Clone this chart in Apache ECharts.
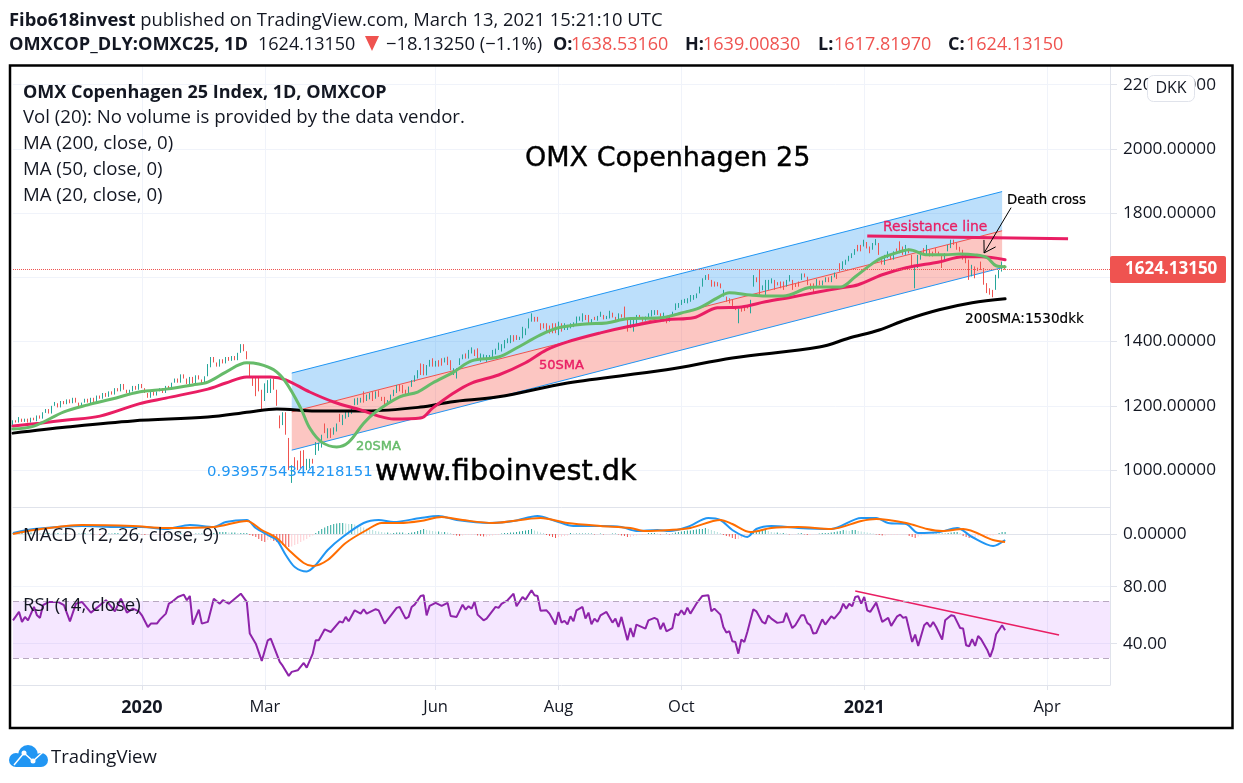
<!DOCTYPE html>
<html><head><meta charset="utf-8">
<style>html,body{margin:0;padding:0;background:#fff}#c{width:1243px;height:783px}</style>
<script src="https://cdn.jsdelivr.net/npm/echarts@6/dist/echarts.min.js"></script>
</head><body><div id="c"></div>
<script>
const BAR_SLOTS = 367;
const tickBars = [43,84,141,182,223,284,345];
const tickLabels = ['2020','Mar','Jun','Aug','Oct','2021','Apr'];
const priceTicks = [1000,1200,1400,1600,1800,2000,2200];
const lastPrice = 1624.1315;

const opens = [
1140,1155,1148,1160,1150,1160,1148,1163,1152,1170,
1160,1178,1190,1176,1200,1208,1195,1215,1205,1220,
1208,1225,1210,1195,1210,1222,1208,1225,1212,1232,
1222,1240,1228,1245,1235,1255,1245,1268,1250,1240,
1245,1262,1250,1268,1255,1240,1225,1245,1232,1245,
1255,1240,1262,1250,1272,1285,1272,1298,1285,1268,
1290,1270,1295,1282,1270,1292,1320,1352,1335,1322,
1345,1332,1352,1340,1355,1342,1365,1392,1370,1335,
1290,1290,1290,1250,1215,1240,1240,1285,1250,1170,
1140,1180,1100,960,1040,1030,1060,1062,1000,1005,
1035,1047,1060,1070,1145,1099,1130,1110,1120,1175,
1140,1160,1165,1175,1202,1203,1210,1245,1215,1220,
1245,1222,1248,1228,1228,1205,1215,1230,1240,1265,
1265,1250,1240,1259,1275,1285,1332,1330,1295,1322,
1348,1322,1342,1348,1335,1353,1342,1296,1285,1327,
1345,1363,1347,1363,1375,1379,1337,1345,1337,1344,
1348,1360,1374,1369,1379,1395,1395,1420,1420,1405,
1410,1420,1441,1462,1477,1477,1457,1457,1457,1450,
1457,1457,1420,1457,1436,1436,1441,1445,1452,1465,
1462,1483,1483,1452,1477,1465,1477,1483,1470,1472,
1490,1477,1467,1485,1509,1472,1442,1431,1452,1483,
1477,1465,1472,1478,1483,1498,1488,1463,1478,1462,
1483,1498,1505,1514,1520,1519,1524,1530,1535,1550,
1571,1592,1610,1592,1587,1585,1581,1540,1540,1535,
1530,1509,1457,1509,1505,1514,1488,1571,1600,1623,
1560,1540,1561,1581,1592,1585,1587,1587,1571,1587,
1592,1580,1587,1592,1612,1602,1581,1581,1570,1590,
1575,1585,1600,1585,1600,1610,1644,1625,1639,1650,
1660,1670,1701,1701,1696,1710,1696,1686,1700,1707,
1660,1639,1660,1670,1655,1690,1712,1696,1670,1690,
1670,1566,1629,1655,1691,1670,1686,1680,1691,1680,
1670,1650,1681,1691,1717,1707,1695,1686,1670,1655,
1603,1634,1630,1649,1629,1582,1566,1561,1561,1597,1618,1638.53];
const closes = [
1155,1148,1165,1150,1160,1148,1163,1155,1170,1160,
1180,1190,1176,1200,1212,1195,1215,1205,1220,1208,
1225,1210,1195,1210,1222,1210,1225,1212,1232,1222,
1240,1228,1245,1235,1255,1245,1268,1250,1240,1250,
1262,1250,1268,1255,1240,1225,1245,1232,1245,1255,
1240,1262,1250,1272,1285,1272,1298,1285,1268,1290,
1270,1295,1282,1270,1292,1330,1352,1335,1322,1345,
1332,1352,1340,1355,1342,1365,1392,1370,1345,1290,
1262,1230,1245,1190,1270,1280,1285,1250,1200,1130,
1180,1110,1000,1015,1000,1000,1005,1000,1035,1035,
1020,1087,1085,1110,1115,1130,1100,1133,1145,1150,
1172,1182,1187,1195,1223,1225,1225,1210,1235,1240,
1215,1245,1228,1215,1200,1218,1235,1250,1265,1245,
1239,1235,1260,1280,1295,1311,1296,1295,1327,1343,
1322,1340,1322,1325,1350,1327,1311,1317,1317,1348,
1360,1347,1374,1382,1355,1348,1363,1360,1358,1358,
1374,1378,1397,1392,1405,1410,1420,1400,1405,1415,
1446,1441,1472,1488,1462,1462,1436,1441,1431,1425,
1426,1426,1462,1431,1457,1452,1457,1460,1478,1478,
1488,1467,1452,1470,1467,1480,1493,1469,1480,1496,
1475,1467,1488,1475,1469,1431,1467,1472,1483,1470,
1462,1478,1488,1498,1498,1483,1467,1490,1457,1483,
1493,1519,1520,1530,1533,1535,1545,1545,1550,1571,
1597,1607,1592,1571,1571,1572,1566,1561,1524,1519,
1503,1498,1503,1493,1495,1503,1530,1607,1585,1545,
1575,1592,1592,1597,1561,1575,1566,1561,1592,1607,
1561,1570,1571,1612,1600,1576,1561,1550,1595,1575,
1590,1600,1585,1605,1615,1595,1618,1650,1655,1667,
1675,1688,1681,1681,1717,1690,1675,1707,1719,1670,
1640,1670,1681,1654,1681,1680,1675,1670,1701,1675,
1634,1639,1670,1681,1670,1701,1665,1665,1675,1670,
1629,1675,1701,1717,1701,1686,1680,1655,1644,1592,
1639,1597,1620,1623,1577,1551,1546,1538,1608,1623,1649,1624.13];

const ma20Bars = [0,7,17,25,33,42,51,60,65,71,78,82,87,91,96,99,103,108,112,117,121,129,135,140,147,153,162,168,176,182,191,198,205,216,223,229,235,239,246,251,257,265,269,276,281,287,290,296,299,305,311,316,321,325,328,331];
const ma20Vals = [1128,1137,1181,1203,1221,1243,1252,1265,1274,1305,1334,1330,1312,1274,1193,1131,1087,1072,1087,1146,1181,1228,1243,1271,1305,1340,1352,1380,1421,1443,1455,1458,1471,1474,1489,1505,1536,1552,1545,1542,1542,1567,1570,1570,1602,1645,1661,1680,1686,1670,1670,1673,1670,1661,1636,1633];
const ma50Bars = [0,9,18,29,42,51,65,71,78,86,91,99,107,116,122,127,136,140,147,153,162,171,178,185,196,205,218,227,235,243,251,260,269,276,282,290,298,309,317,323,331];
const ma50Vals = [1137,1146,1156,1168,1206,1224,1252,1271,1290,1290,1281,1243,1212,1187,1168,1159,1162,1193,1240,1271,1296,1334,1374,1399,1427,1446,1468,1474,1505,1508,1524,1539,1555,1567,1577,1608,1630,1648,1664,1664,1655];
const ma200Bars = [0,18,40,65,79,88,101,118,136,146,162,185,218,240,269,279,289,298,309,320,331];
const ma200Vals = [1115,1134,1153,1165,1181,1190,1184,1184,1196,1212,1228,1271,1312,1349,1383,1411,1436,1468,1499,1521,1533];

const macdBars = [0,7,23,35,43,51,59,67,71,78,81,85,88,91,94,98,101,105,110,117,122,127,136,142,148,159,167,175,181,187,196,203,208,215,219,225,232,236,240,245,248,253,262,273,283,288,292,298,302,309,315,320,327,331];
const macdVals = [2,10,16,14,14,10,18,14,24,28,12,-2,-12,-42,-66,-75,-62,-32,-6,22,28,24,32,36,28,22,26,36,26,16,16,14,6,8,6,14,32,28,8,-6,10,16,12,10,32,32,22,20,2,4,12,-6,-24,-12];
const signalBars = [0,7,23,40,51,67,78,83,88,92,97,100,105,111,118,123,129,136,143,150,160,176,185,196,206,211,219,226,236,240,246,253,262,273,283,288,298,305,310,317,327,331];
const signalVals = [0,8,18,16,12,14,26,8,-8,-32,-58,-64,-52,-18,8,22,22,26,34,28,22,32,22,16,12,6,8,12,28,20,4,12,14,10,26,30,22,10,6,10,-12,-16];
const histVals = [
2,2,3,3,2,2,3,2,1,1,
1,2,2,1,1,2,1,1,1,-1,
-1,-1,1,1,2,1,1,-1,-1,-2,
-1,-1,1,1,2,2,1,-1,-1,-1,
1,1,1,-1,-2,-2,-1,-1,-1,-2,
-2,-1,1,1,1,1,2,1,-1,-1,
-1,1,1,1,-1,-1,1,2,3,4,
4,4,3,3,3,2,2,2,2,-2,
-4,-6,-10,-14,-16,-12,-12,-14,-16,-20,
-22,-24,-26,-25,-22,-20,-16,-13,-10,-6,
-3,2,6,10,13,16,18,20,21,22,
22,21,20,20,19,17,15,13,11,9,
8,6,5,4,3,3,2,2,3,3,
3,1,2,3,4,6,8,10,8,7,
6,5,5,4,4,3,2,-1,-3,-4,
-3,-2,-2,-2,-2,-3,-4,-5,-5,-4,
-3,-2,-2,1,2,2,3,3,4,5,
6,7,8,10,7,5,3,2,-2,-4,
-6,-8,-6,-5,-4,-3,2,1,1,1,
1,1,1,1,-1,-1,1,-1,-1,-1,
1,1,-1,-3,-4,-6,-6,-4,-3,-2,
-2,-1,2,2,2,1,-1,-1,1,-1,
1,3,4,5,6,7,7,8,9,10,
10,12,10,8,6,4,2,-2,-4,-5,
-8,-10,-10,-8,-5,-3,2,4,6,6,
8,8,6,4,3,3,2,2,1,-1,
-1,-1,1,2,-1,-2,-2,-1,-1,1,
2,2,2,3,4,5,6,8,7,6,
8,8,6,5,4,3,2,1,-1,-2,
-3,-3,-2,-2,-2,-2,-1,-1,-1,-4,
-6,-8,-5,-3,-2,-1,-1,1,1,1,
1,1,2,3,4,4,2,-4,-6,-8,
-8,-7,-5,-4,-4,-4,-3,-3,-2,2,4,4];

const rsiBars = [0,2,3,4,5,7,8,9,10,12,15,17,19,21,23,26,29,31,34,36,38,40,42,43,45,46,48,49,51,52,53,55,57,58,59,60,62,63,65,67,69,70,72,76,78,79,81,83,85,86,89,90,92,93,95,97,98,100,101,102,104,106,109,110,111,112,114,116,117,118,121,122,124,128,129,131,132,133,134,136,137,138,139,141,143,145,146,148,150,151,152,153,154,155,157,158,161,162,163,165,167,168,170,171,173,174,175,176,178,179,181,182,183,184,185,186,187,188,190,191,192,193,194,195,196,198,200,201,202,203,205,206,207,208,211,212,214,215,216,217,218,220,221,222,223,224,225,226,228,230,232,233,234,236,237,238,239,240,241,242,243,244,245,247,248,250,251,252,253,255,257,258,260,261,263,264,265,266,267,268,270,271,273,274,276,277,278,279,280,281,282,283,284,285,286,288,290,292,293,295,296,297,298,300,301,302,304,305,306,307,308,310,311,313,314,316,317,318,319,320,321,322,323,325,326,327,328,330,331];
const rsiVals = [56.4,62.3,55.3,58.8,56.4,65.8,59.9,58.1,67,69.3,69.3,67,55.7,68.1,69.3,61.8,67,70.5,62.7,71.6,61.8,64.6,62.7,59.9,51.7,54.1,54.1,56.9,61.1,68.1,69.3,72.8,74.4,70.5,73.5,53.4,63.9,54.1,55.3,71.6,68.1,70.5,68.1,75.1,69.3,47.1,40,27.9,42.4,43.6,27.2,24.4,17.4,20.2,21.3,26.5,23.2,33,42.4,42.4,50.1,48.2,55.7,54.8,58.8,55.7,63.4,61.1,64.2,61.1,64.2,63.4,54.1,65.1,65.8,57.6,58.8,65.8,67.4,73.5,74,59.9,66.5,68.6,66.5,68.6,59.5,58.8,67.4,63.9,66.3,64.6,69.3,60.4,56.4,57.6,65.8,65.1,67.9,70.5,75.1,66.3,72.8,70.9,77.5,74,73.5,63.2,63.4,61.1,53.4,62.3,54.8,56,53.6,59.2,55.7,63.4,65.8,57.6,61.8,53.6,57.6,55.3,59.9,62.3,54.8,57.6,51.7,58.8,42.4,51,44.7,53.4,50.6,56.4,58.1,57.1,50.1,54.6,48.7,51,61.1,59.9,63.4,60.4,65.3,61.1,68.1,73.5,74,62.7,64.6,60.4,51.7,47.8,48.7,41.7,41.2,33,42.9,41.2,48.2,64.2,62.7,55.3,54.1,59.9,57.6,54.6,55.3,61.6,51,52.9,59.9,59.9,54.6,52.9,47.1,47.5,57.1,53.4,59.2,57.6,62.7,68.1,64.6,68.1,66.3,72.8,73.3,68.1,72.8,63.4,62.3,68.8,55.3,58.1,52.5,59.2,60.4,58.1,58.8,41.2,46.4,38.4,52.9,54.8,51.7,55.3,51.7,42.9,56.4,59.9,59.5,51,50.6,38.9,38.2,43.1,38.4,45.4,43.1,35.8,30.7,36.5,46.6,52.9,49.4];

// trader drawings
const channelBars = [93,330];
const channelUpper = [1302,1867];
const channelMiddle = [1181,1745];
const channelLower = [1062,1630];
const resistanceBars = [285,352];
const resistanceVals = [1729,1720];
const arrowBars = [333,324];
const arrowVals = [1817,1676];
const rsiTrendBars = [281,349];
const rsiTrendVals = [77,46.1];

const UI = '"Open Sans","Noto Sans",sans-serif';
const DJ = '"DejaVu Sans"';
const INK = '#131722';
const RED = '#ef5350';
const GRIDC = '#f0f3fa';
const PANEC = '#e0e3eb';
const categories = Array.from({length:BAR_SLOTS},(_,i)=>String(i));
const isTick = i => tickBars.includes(i);
const zip = (a,b)=>a.map((x,i)=>[x,b[i]]);

const chart = echarts.init(document.getElementById('c'),null,{renderer:'canvas'});

function xAxis(idx,showLabels){
  return {type:'category',gridIndex:idx,data:categories,boundaryGap:false,
    axisLine:{show:true,lineStyle:{color:PANEC,width:1}},
    axisTick:{show:showLabels,interval:(i)=>isTick(i),alignWithLabel:true,length:5,lineStyle:{color:PANEC}},
    splitLine:{show:true,interval:(i)=>isTick(i),lineStyle:{color:GRIDC,width:1}},
    axisLabel:{show:showLabels,interval:(i)=>isTick(i),margin:14,
      formatter:(v)=>{const k=tickBars.indexOf(+v);if(k<0)return '';const t=tickLabels[k];return /^\d/.test(t)?'{b|'+t+'}':'{n|'+t+'}';},
      rich:{b:{fontFamily:UI,fontSize:18,fontWeight:700,color:INK},n:{fontFamily:UI,fontSize:16.5,color:INK}}}};
}
function yAxis(idx,min,max,ticks,digits){
  return {type:'value',gridIndex:idx,position:'right',min,max,scale:true,
    axisLine:{show:true,lineStyle:{color:PANEC,width:1}},
    axisTick:{show:true,length:7,customValues:ticks,lineStyle:{color:PANEC}},
    splitLine:{show:true,lineStyle:{color:GRIDC,width:1}},
    axisLabel:{customValues:ticks,margin:13,fontFamily:UI,fontSize:17.2,color:INK,formatter:(v)=>v.toFixed(digits)}};
}
function maLine(name,bars,vals,color,width,z){
  return {name,type:'line',xAxisIndex:0,yAxisIndex:0,data:zip(bars,vals),smooth:0.35,symbol:'none',z,silent:true,
    lineStyle:{color,width,cap:'round'}};
}
function drawingFill(a,b,fill){
  return {type:'custom',xAxisIndex:0,yAxisIndex:0,z:1,silent:true,clip:false,data:[[channelBars[0],a[0]]],
    renderItem:(p,api)=>({type:'polygon',shape:{points:[
      api.coord([channelBars[0],a[0]]),api.coord([channelBars[1],a[1]]),
      api.coord([channelBars[1],b[1]]),api.coord([channelBars[0],b[0]])]},style:{fill}})};
}
function drawingLine(bars,vals,color,width,z,xi){
  return {type:'line',xAxisIndex:xi||0,yAxisIndex:xi||0,data:zip(bars,vals),symbol:'none',z,silent:true,
    lineStyle:{color,width}};
}
function label(x,y,text,font,size,fill,extra){
  return {type:'text',z:60,x,y:y+1.5,style:Object.assign({text,fontFamily:font,fontSize:size,fill,verticalAlign:'middle'},extra||{})};
}

const option = {
  animation:false,
  backgroundColor:'#fff',
  grid:[
    {left:13,right:133,top:66,height:441,containLabel:false},
    {left:13,right:133,top:507,height:71},
    {left:13,right:133,top:578,height:107}
  ],
  xAxis:[xAxis(0,false),xAxis(1,false),xAxis(2,true)],
  yAxis:[
    yAxis(0,885,2258,priceTicks,5),
    yAxis(1,-88,54,[0],5),
    yAxis(2,11,86.1,[40,80],2)
  ],
  series:[
    drawingFill(channelUpper,channelMiddle,'rgba(33,150,243,0.3)'),
    drawingFill(channelMiddle,channelLower,'rgba(244,67,54,0.3)'),
    drawingLine(channelBars,channelUpper,'#2196f3',1,2),
    drawingLine(channelBars,channelMiddle,RED,1,2),
    drawingLine(channelBars,channelLower,'#2196f3',1,2),
    {type:'candlestick',xAxisIndex:0,yAxisIndex:0,z:3,barWidth:1,silent:true,
      data:opens.map((o,i)=>[o,closes[i],Math.min(o,closes[i]),Math.max(o,closes[i])]),
      itemStyle:{color:'#26a69a',color0:RED,borderColor:'#26a69a',borderColor0:RED,borderWidth:1},
      markLine:{silent:true,symbol:'none',z:20,
        data:[{yAxis:lastPrice}],
        lineStyle:{color:RED,type:'dotted',width:1},
        label:{show:true,position:'end',distance:0,formatter:()=>lastPrice.toFixed(5),color:'#fff',
          fontFamily:UI,fontSize:17,fontWeight:700,backgroundColor:RED,borderRadius:2,
          padding:[5,9,5,15],width:92,align:'left'}}},
    maLine('MA 200',ma200Bars,ma200Vals,'#000000',3,5),
    maLine('MA 50',ma50Bars,ma50Vals,'#e91e63',3,6),
    maLine('MA 20',ma20Bars,ma20Vals,'#66bb6a',3,7),
    drawingLine(resistanceBars,resistanceVals,'#e91e63',3,8),
    {type:'custom',xAxisIndex:0,yAxisIndex:0,z:9,silent:true,clip:false,data:[[arrowBars[0],arrowVals[0]]],
      renderItem:(p,api)=>{
        const a=api.coord([arrowBars[0],arrowVals[0]]),b=api.coord([arrowBars[1],arrowVals[1]]);
        const t=Math.atan2(b[1]-a[1],b[0]-a[0]),h=13,s=0.55;
        const p1=[b[0]-h*Math.cos(t-s),b[1]-h*Math.sin(t-s)],p2=[b[0]-h*Math.cos(t+s),b[1]-h*Math.sin(t+s)];
        return {type:'group',children:[
          {type:'line',shape:{x1:a[0],y1:a[1],x2:b[0],y2:b[1]},style:{stroke:'#000',lineWidth:1}},
          {type:'polyline',shape:{points:[p1,b,p2]},style:{stroke:'#000',lineWidth:1,fill:null}}]};
      }},
    {type:'bar',xAxisIndex:1,yAxisIndex:1,barWidth:1,z:2,silent:true,data:histVals,
      itemStyle:{color:(p)=>{const v=p.value,prev=p.dataIndex?histVals[p.dataIndex-1]:0;
        if(v>=0)return v>=prev?'#26a69a':'#b2dfdb';return v<prev?RED:'#ffcdd2';}}},
    {type:'line',xAxisIndex:1,yAxisIndex:1,data:zip(macdBars,macdVals),smooth:0.3,symbol:'none',z:3,silent:true,lineStyle:{color:'#2196f3',width:2}},
    {type:'line',xAxisIndex:1,yAxisIndex:1,data:zip(signalBars,signalVals),smooth:0.3,symbol:'none',z:4,silent:true,lineStyle:{color:'#ff6d00',width:2}},
    {type:'line',xAxisIndex:2,yAxisIndex:2,data:zip(rsiBars,rsiVals),symbol:'none',z:3,silent:true,
      lineStyle:{color:'#8e24aa',width:2},
      markArea:{silent:true,itemStyle:{color:'rgba(153,21,255,0.1)'},data:[[{yAxis:70},{yAxis:30}]]},
      markLine:{silent:true,symbol:'none',label:{show:false},lineStyle:{color:'#b8a8c0',type:[6,4],width:1},data:[{yAxis:70},{yAxis:30}]}},
    drawingLine(rsiTrendBars,rsiTrendVals,'#e91e63',1.5,4,2)
  ],
  graphic:{elements:[
    {type:'rect',z:50,shape:{x:10,y:65.5,width:1222.5,height:662.5},style:{fill:null,stroke:'#000',lineWidth:2.5}},
    label(9,19,'{b|Fibo618invest} published on TradingView.com, March 13, 2021 15:21:10 UTC',UI,18.4,INK,
      {rich:{b:{fontFamily:UI,fontSize:18.4,fontWeight:700,fill:INK}}}),
    label(9,43,'OMXCOP_DLY:OMXC25, 1D',UI,18.2,INK,{fontWeight:700}),
    label(258,43,'1624.13150',UI,18,INK),
    {type:'polygon',z:60,shape:{points:[[365,36],[379,36],[372,51]]},style:{fill:RED}},
    label(386,43,'−18.13250 (−1.1%)',UI,18.4,INK),
    label(553,43,'O:',UI,18,INK,{fontWeight:700}),label(571,43,'1638.53160',UI,18,RED),
    label(685,43,'H:',UI,18,INK,{fontWeight:700}),label(703,43,'1639.00830',UI,18,RED),
    label(818,43,'L:',UI,18,INK,{fontWeight:700}),label(834,43,'1617.81970',UI,18,RED),
    label(948,43,'C:',UI,18,INK,{fontWeight:700}),label(966,43,'1624.13150',UI,18,RED),
    label(23,91,'OMX Copenhagen 25 Index, 1D, OMXCOP',UI,18,INK,{fontWeight:700}),
    label(23,116,'Vol (20): No volume is provided by the data vendor.',UI,18.6,INK),
    label(23,142,'MA (200, close, 0)',UI,18.6,INK),
    label(23,168,'MA (50, close, 0)',UI,18.6,INK),
    label(23,194,'MA (20, close, 0)',UI,18.6,INK),
    label(23,534,'MACD (12, 26, close, 9)',UI,18.6,INK),
    label(23,604,'RSI (14, close)',UI,18.6,INK),
    label(525,157,'OMX Copenhagen 25',DJ,27,'#000',{stroke:'#000',lineWidth:0.4}),
    label(375,471,'www.fiboinvest.dk',DJ,28.7,'#000',{stroke:'#000',lineWidth:0.5}),
    label(207,471,'0.9395754344218151',DJ,14.9,'#2196f3'),
    label(356,445,'20SMA',DJ,13,'#66bb6a',{stroke:'#66bb6a',lineWidth:0.4}),
    label(539,364,'50SMA',DJ,13,'#e91e63',{stroke:'#e91e63',lineWidth:0.4}),
    label(883,226,'Resistance line',DJ,13.9,'#e91e63',{stroke:'#e91e63',lineWidth:0.3}),
    label(1007,199,'Death cross',DJ,13.3,'#000',{stroke:'#000',lineWidth:0.2}),
    label(965,318,'200SMA:1530dkk',DJ,13.6,'#000',{stroke:'#000',lineWidth:0.2}),
    {type:'rect',z:61,shape:{x:1147.5,y:75.5,width:47,height:26,r:6},style:{fill:'#fff',stroke:'#e0e3eb',lineWidth:1}},
    {type:'text',z:62,x:1171,y:88.5,style:{text:'DKK',fontFamily:UI,fontSize:16,fill:INK,align:'center',verticalAlign:'middle'}},
    {type:'group',z:60,children:[
      {type:'circle',z:60,shape:{cx:28,cy:755,r:10},style:{fill:'#2196f3'}},
      {type:'circle',z:60,shape:{cx:16,cy:760,r:7},style:{fill:'#2196f3'}},
      {type:'circle',z:60,shape:{cx:41,cy:760,r:7},style:{fill:'#2196f3'}},
      {type:'rect',z:60,shape:{x:16,y:757,width:25,height:10},style:{fill:'#2196f3'}},
      {type:'polyline',z:61,shape:{points:[[14,765],[24,753],[33,761],[43,752]]},style:{stroke:'#fff',lineWidth:1.5,fill:null}},
      {type:'circle',z:61,shape:{cx:24,cy:753,r:2.5},style:{fill:'#fff'}},
      {type:'circle',z:61,shape:{cx:33,cy:761,r:2.5},style:{fill:'#fff'}}
    ]},
    label(51,756,'TradingView',UI,18.5,INK)
  ]}
};
chart.setOption(option);
</script></body></html>
